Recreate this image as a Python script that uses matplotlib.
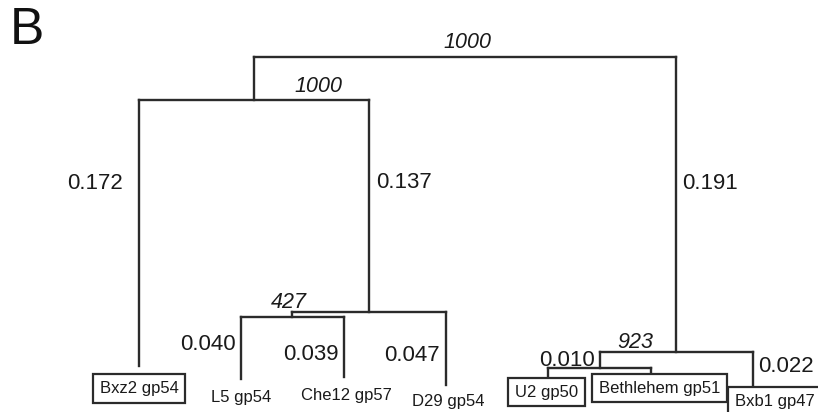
import matplotlib.pyplot as plt
import matplotlib.transforms as mtransforms

# tree: each node with its parent, branch length and the label printed on its branch
node_names = ['A', 'Bxz2 gp54', 'B', 'C', 'L5 gp54', 'Che12 gp57', 'D29 gp54',
              'D', 'E', 'U2 gp50', 'Bethlehem gp51', 'Bxb1 gp47']
node_parents = ['root', 'A', 'A', 'B', 'C', 'C', 'B',
                'root', 'D', 'E', 'E', 'D']
branch_lengths = [0.028, 0.172, 0.137, 0.003, 0.040, 0.039, 0.047,
                  0.191, 0.010, 0.006, 0.003, 0.022]
branch_labels = ['', '0.172', '0.137', '', '0.040', '0.039', '0.047',
                 '0.191', '0.010', '', '', '0.022']

leaf_names = ['Bxz2 gp54', 'L5 gp54', 'Che12 gp57', 'D29 gp54',
              'U2 gp50', 'Bethlehem gp51', 'Bxb1 gp47']
leaf_boxed = [True, False, False, False, True, True, True]

support_nodes = ['root', 'A', 'B', 'D']
support_values = ['1000', '1000', '427', '923']

LINE = '#2b2b2b'
FONT = 'Liberation Sans'

# pixel offsets (dx, dy down) and alignment for the branch labels
branch_label_pos = {
    '0.172': (-16, 83, 'right'),
    '0.137': (7, 82, 'left'),
    '0.191': (6, 126, 'left'),
    '0.040': (-6, 28, 'right'),
    '0.039': (-5, 38, 'right'),
    '0.047': (-6, 43, 'right'),
    '0.010': (-5, 8, 'right'),
    '0.022': (5, 14, 'left'),
}
support_pos = {'root': (2, -15), 'A': (64, -14), 'B': (-80, -10), 'D': (-41, -10)}
leaf_pos = {
    'Bxz2 gp54': (0, 22), 'L5 gp54': (0, 19), 'Che12 gp57': (3, 18),
    'D29 gp54': (2, 17), 'U2 gp50': (-2, 15), 'Bethlehem gp51': (9, 15.5),
    'Bxb1 gp47': (22, 15),
}


def main():
    fig = plt.figure(figsize=(8.18, 4.12), dpi=100)
    ax = fig.add_axes([0, 0, 1, 1])
    ax.set_xlim(-1.358, 6.635)
    ax.set_ylim(0.2295, -0.03685)
    ax.axis('off')

    parent = dict(zip(node_names, node_parents))
    length = dict(zip(node_names, branch_lengths))
    children = {}
    for n, p in zip(node_names, node_parents):
        children.setdefault(p, []).append(n)

    depth = {'root': 0.0}
    for n in node_names:
        depth[n] = depth[parent[n]] + length[n]

    xpos = {name: i for i, name in enumerate(leaf_names)}

    def get_x(n):
        if n not in xpos:
            kids = children[n]
            xpos[n] = (get_x(kids[0]) + get_x(kids[-1])) / 2
        return xpos[n]

    get_x('root')

    for n in node_names:
        p = parent[n]
        ax.plot([xpos[n], xpos[n]], [depth[p], depth[n]], color=LINE, lw=1.7,
                solid_capstyle='projecting')
    for p, kids in children.items():
        ax.plot([xpos[kids[0]], xpos[kids[-1]]], [depth[p], depth[p]], color=LINE,
                lw=1.7, solid_capstyle='projecting')

    def off(dx, dy):
        return mtransforms.offset_copy(ax.transData, fig, x=dx, y=-dy, units='dots')

    for n, lab in zip(node_names, branch_labels):
        if not lab:
            continue
        dx, dy, ha = branch_label_pos[lab]
        ax.text(xpos[n], depth[parent[n]], lab, transform=off(dx, dy), ha=ha,
                va='center', fontsize=16, family=FONT, color='#1a1a1a')

    for n, val in zip(support_nodes, support_values):
        dx, dy = support_pos[n]
        ax.text(xpos[n], depth[n], val, transform=off(dx, dy), ha='center',
                va='center', fontsize=15.5, family=FONT, style='italic', color='#1a1a1a')

    for n, boxed in zip(leaf_names, leaf_boxed):
        dx, dy = leaf_pos[n]
        bbox = None
        if boxed:
            bbox = dict(boxstyle='square,pad=0.4', fc='white', ec=LINE, lw=1.6)
        ax.text(xpos[n], depth[n], n, transform=off(dx, dy), ha='center',
                va='center', fontsize=12, family=FONT, color='#1a1a1a', bbox=bbox)

    fig.text(0.012, 0.985, 'B', fontsize=37, family=FONT, va='top', ha='left',
             color='#111111')

    fig.savefig('out.png', dpi=100)


if __name__ == '__main__':
    main()
